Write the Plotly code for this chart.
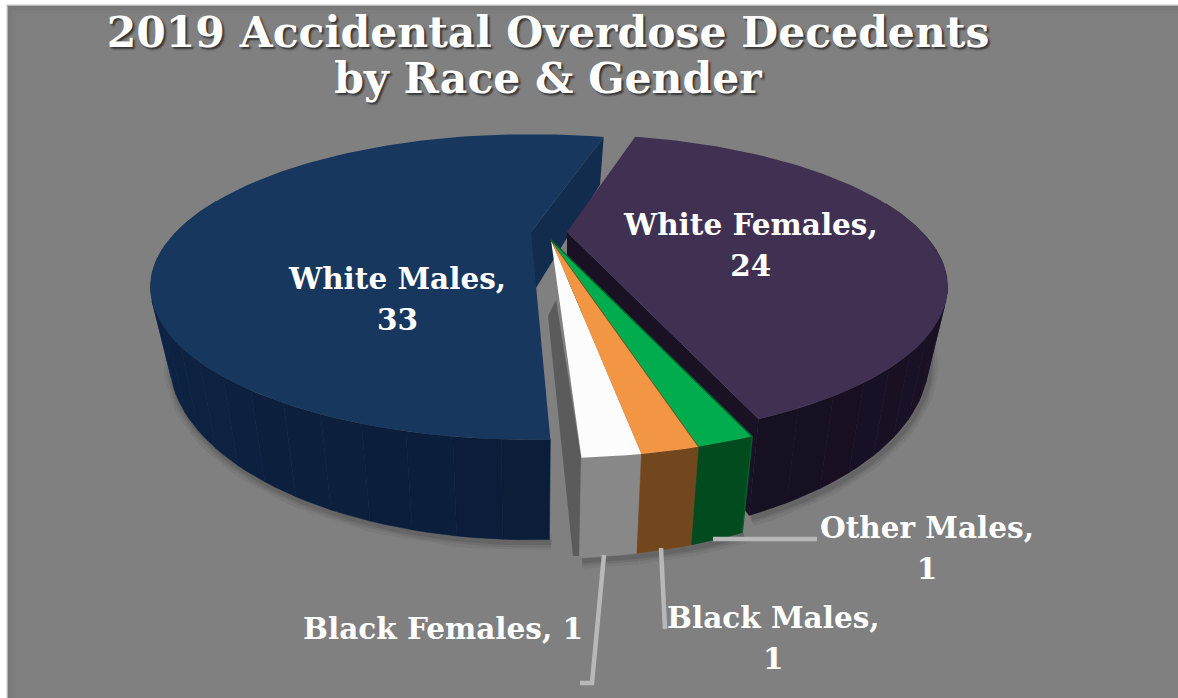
import math
import plotly.graph_objects as go

# ---- data ----
labels = ["White Females", "Other Males", "Black Males", "Black Females", "White Males"]
values = [24, 1, 1, 1, 33]

# ---- styles ----
top_colors = ["#403152", "#00ac4e", "#f29644", "#fcfcfc", "#17375e"]
side_from = ["#241a33", "#02501f", "#754a20", "#909090", "#0b1d39"]
side_to = ["#170f22", "#024620", "#6f451d", "#808080", "#15315a"]
wall_colors = ["#1a1224", None, None, None, "#122c4e"]
edge_colors = [None, "#00602a", "#7a4a1f", None, None]
apex = [(567, 232), (551, 240), (551, 240), (551, 240), (531, 232)]
scale = [1.0, 1.05, 1.05, 1.05, 1.0]
angle_trim = [0, 0, 0, 0, 1]
FIRST_ANGLE = 15
R, RY, K, M, DEPTH = 355, 133, 0.36, 0.95, 64
BG = "#808080"
TEXT_FONT = "DejaVu Serif"


def hexrgb(c):
    return tuple(int(c[i:i + 2], 16) for i in (1, 3, 5))


def mix(a, b, t):
    ra, rb = hexrgb(a), hexrgb(b)
    return "rgb(%d,%d,%d)" % tuple(ra[i] + (rb[i] - ra[i]) * t for i in range(3))


def top(theta, i):
    t = math.radians(theta)
    ax, ay = apex[i]
    s = 1 / (1 + K * math.cos(t))
    return (ax + R * scale[i] * math.sin(t) * s, ay - RY * scale[i] * math.cos(t) * s)


def bottom(theta, i):
    t = math.radians(theta)
    ax, _ = apex[i]
    x, y = top(theta, i)
    s = 1 / (1 + K * math.cos(t))
    return (ax + (x - ax) * M, y + DEPTH * s)


def arc(f, a, b, i, step=1.5):
    n = max(2, int(abs(b - a) / step) + 1)
    return [f(a + (b - a) * j / (n - 1), i) for j in range(n)]


def poly(fig, pts, fill, line=None, width=0):
    xs = [p[0] for p in pts] + [pts[0][0]]
    ys = [p[1] for p in pts] + [pts[0][1]]
    fig.add_trace(go.Scatter(x=xs, y=ys, mode="lines", fill="toself", fillcolor=fill,
                             line=dict(color=line or fill, width=width), hoverinfo="skip",
                             showlegend=False))


total = sum(values)
spans = []
cur = FIRST_ANGLE
for v, tr in zip(values, angle_trim):
    spans.append((cur + tr, cur + tr + 360 * v / total))
    cur += 360 * v / total

fig = go.Figure()

# soft shadow under the pie
for w, al in ((16, 0.05), (10, 0.07), (5, 0.09)):
    for i in range(len(values)):
        a, b = spans[i]
        pts = arc(bottom, a, b, i)
        pts = [(x + 2, y + 3) for x, y in pts if y > 300]
        fig.add_trace(go.Scatter(x=[p[0] for p in pts], y=[p[1] for p in pts], mode="lines",
                                 line=dict(color="rgba(0,0,0,%s)" % al, width=w),
                                 hoverinfo="skip", showlegend=False))

# shadow strip beside the small slices
poly(fig, [(548, 316), (556, 300), (581, 457), (579, 556), (573, 556)], "rgba(40,40,40,0.42)")


def draw_slice(i):
    a, b = spans[i]
    ax, ay = apex[i]
    if wall_colors[i]:
        p, q = top(b, i), bottom(b, i)
        poly(fig, [p, (ax, ay), (ax, ay + DEPTH), q], wall_colors[i])
    n = max(1, int((b - a) / 5))
    for j in range(n):
        s0 = a + (b - a) * j / n
        s1 = a + (b - a) * (j + 1) / n
        if math.cos(math.radians((s0 + s1) / 2)) > 0.25:
            continue
        pts = arc(top, s0, s1, i) + arc(bottom, s1, s0, i)
        col = mix(side_from[i], side_to[i], (j + 0.5) / n)
        poly(fig, pts, col, col, 0.5)
    t_pts = [(ax, ay)] + arc(top, a, b, i)
    poly(fig, t_pts, top_colors[i])
    if edge_colors[i]:
        p = top(a, i)
        q = bottom(a, i)
        fig.add_trace(go.Scatter(x=[ax, p[0], q[0]], y=[ay, p[1], q[1]], mode="lines",
                                 line=dict(color=edge_colors[i], width=1.5),
                                 hoverinfo="skip", showlegend=False))


for i in (4, 0, 3, 2, 1):
    draw_slice(i)

# ---- leader lines ----
leaders = [
    [(713, 539), (817, 539)],
    [(661, 548), (665, 629)],
    [(604, 555), (592, 683), (580, 683)],
]
for ln in leaders:
    fig.add_trace(go.Scatter(x=[p[0] for p in ln], y=[p[1] for p in ln], mode="lines",
                             line=dict(color="#b8b8b8", width=4.5),
                             hoverinfo="skip", showlegend=False))

# ---- labels ----
label_pos = [(750, 245), (927, 548), (773, 638), (443, 628), (397, 299)]
label_text = ["White Females,<br>24", "Other Males,<br>1", "Black Males,<br>1",
              "Black Females, 1", "White Males,<br>33"]


def sized(text, px):
    return "<br>".join('<span style="font-size:%gpx">%s</span>' % (px, p) for p in text.split("<br>"))


annotations = [dict(x=x, y=y, text=sized(t, 29.5), xref="x", yref="y", showarrow=False,
                    align="center",
                    font=dict(family=TEXT_FONT, size=31.5, color="#ffffff", weight="bold"))
               for (x, y), t in zip(label_pos, label_text)]

edge_bands = [dict(type="rect", xref="x", yref="y", x0=x0, x1=1178, y0=y0, y1=698,
                   layer="below", line=dict(width=0), fillcolor=c)
              for x0, y0, c in ((6, 4, "#e4e4e4"), (7, 5, "#b4b4b4"), (8, 6, "#7a7a7a"),
                                (12, 10, "#7d7d7d"), (16, 14, BG))]

fig.update_layout(
    width=1178, height=698,
    margin=dict(l=0, r=0, t=0, b=0),
    paper_bgcolor="#ffffff",
    plot_bgcolor="#ffffff",
    showlegend=False,
    title=dict(text=sized("2019 Accidental Overdose Decedents<br>by Race &amp; Gender", 42.5),
               x=548 / 1178, xanchor="center",
               y=1 - 46.5 / 698, yanchor="middle",
               font=dict(family=TEXT_FONT, size=35.5, color="#ffffff", weight="bold",
                         shadow="2px 2px 2px #333333")),
    xaxis=dict(range=[0, 1178], visible=False, fixedrange=True),
    yaxis=dict(range=[698, 0], visible=False, fixedrange=True),
    annotations=annotations,
    shapes=edge_bands,
)

fig.write_html("out.html", config=dict(displayModeBar=False),
               default_width="1178px", default_height="698px",
               post_script="document.body.style.margin='0';document.documentElement.style.overflow='hidden';")
